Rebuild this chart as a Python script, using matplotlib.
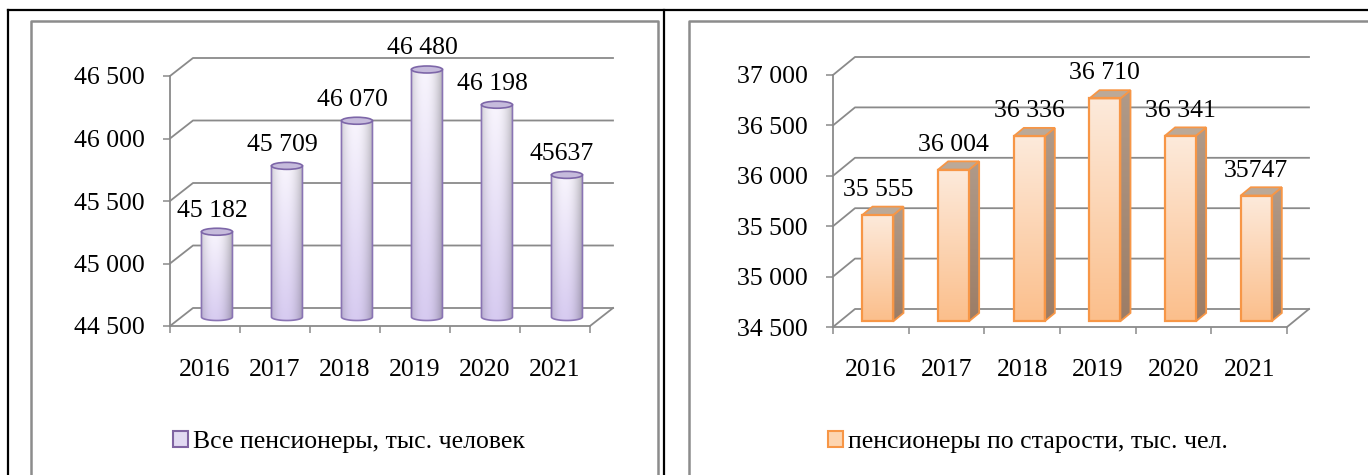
import numpy as np
import matplotlib
matplotlib.use('Agg')
import matplotlib.pyplot as plt
from matplotlib.patches import Polygon, Ellipse, Patch, Rectangle

plt.rcParams['font.family'] = ['Liberation Serif', 'DejaVu Serif']

# данные
years = ['2016', '2017', '2018', '2019', '2020', '2021']
all_pens = [45182, 45709, 46070, 46480, 46198, 45637]
all_labels = ['45 182', '45 709', '46 070', '46 480', '46 198', '45637']
old_pens = [35555, 36004, 36336, 36710, 36341, 35747]
old_labels = ['35 555', '36 004', '36 336', '36 710', '36 341', '35747']
left_ticks = [44500, 45000, 45500, 46000, 46500]
left_ticklabels = ['44 500', '45 000', '45 500', '46 000', '46 500']
right_ticks = [34500, 35000, 35500, 36000, 36500, 37000]
right_ticklabels = ['34 500', '35 000', '35 500', '36 000', '36 500', '37 000']
left_name = 'Все пенсионеры, тыс. человек'
right_name = 'пенсионеры по старости, тыс. чел.'

W, H = 1368, 475
FS = 18.5
GRID = '#8a8a8a'

fig = plt.figure(figsize=(W / 100, H / 100), dpi=100)


def px_axes(x0, y_top, x1, y_bot):
    return fig.add_axes([x0 / W, 1 - y_bot / H, (x1 - x0) / W, (y_bot - y_top) / H])


# рамки таблицы и диаграмм
bg = fig.add_axes([0, 0, 1, 1], zorder=-5)
bg.set_xlim(0, W)
bg.set_ylim(H, 0)
bg.axis('off')
for xs, ys in [([8, 8], [10, H]), ([8, W], [10, 10]), ([664, 664], [10, H])]:
    bg.plot(xs, ys, color='black', lw=1.6)
for xs, ys in [([31, 31, 658, 658], [H, 21, 21, H]), ([689, 689, W], [H, 21, 21])]:
    bg.plot(xs, ys, color='#8c8c8c', lw=1.8)


def setup_wall(ax, ticks, ticklabels, dpx, dpy, xpad):
    n = len(years)
    ymin, ymax = ticks[0], ticks[-1]
    bb = ax.get_window_extent()
    sx = bb.width / n
    sy = bb.height / (ymax - ymin)
    ddx, ddy = dpx / sx, dpy / sy
    for t in ticks:
        ax.plot([0, ddx, n + ddx], [t, t + ddy, t + ddy], color=GRID, lw=1.3,
                clip_on=False, zorder=1)
    ax.plot([n, n + ddx], [ymin, ymin + ddy], color=GRID, lw=1.3, clip_on=False, zorder=1)
    for s in ['top', 'right']:
        ax.spines[s].set_visible(False)
    for s in ['left', 'bottom']:
        ax.spines[s].set_color(GRID)
        ax.spines[s].set_linewidth(1.3)
    ax.set_facecolor('none')
    ax.set_yticks(ticks)
    ax.set_yticklabels(ticklabels, fontsize=FS)
    ax.tick_params(axis='y', length=5, width=1.1, color=GRID, pad=13)
    ax.set_xticks(np.arange(n) + 0.5)
    ax.set_xticklabels(years, fontsize=FS)
    ax.set_xticks(np.arange(n + 1), minor=True)
    ax.tick_params(axis='x', which='major', length=0, pad=xpad)
    ax.tick_params(axis='x', which='minor', length=5, width=1.1, color=GRID)
    return sx, sy, ddx, ddy


def gradient(top_rgb, bot_rgb, shade, ny=60, nx=60):
    t = np.linspace(0, 1, ny)[:, None, None]
    col = np.array(bot_rgb)[None, None, :] * (1 - t) + np.array(top_rgb)[None, None, :] * t
    u = np.linspace(-1, 1, nx)
    f = 1 - shade * (np.abs(u + 0.1) ** 2.2)
    return np.clip(col * f[None, :, None], 0, 1)


def hex2rgb(h):
    return [int(h[i:i + 2], 16) / 255 for i in (1, 3, 5)]


# левая диаграмма — цилиндры
axl = px_axes(170, 76, 590, 326)
axl.set_xlim(0, 6)
axl.set_ylim(left_ticks[0], left_ticks[-1])
sx, sy, ddx, ddy = setup_wall(axl, left_ticks, left_ticklabels, 23, 18, 24)
w = 31 / sx
eh = 7 / sy
img = gradient(hex2rgb('#f8f5fd'), hex2rgb('#d6caf0'), 0.2)
base = left_ticks[0] + 0.5 * ddy
th = np.linspace(np.pi, 2 * np.pi, 40)
for i, v in enumerate(all_pens):
    cx = i + 0.5 + 0.52 * ddx
    top = v + 0.5 * ddy
    pts = [(cx - w / 2, top)]
    pts += [(cx + w / 2 * np.cos(a), base + eh / 2 * np.sin(a)) for a in th]
    pts += [(cx + w / 2, top)]
    body = Polygon(pts, closed=True, transform=axl.transData)
    im = axl.imshow(img, extent=[cx - w / 2, cx + w / 2, base - eh, top], origin='lower',
                    aspect='auto', zorder=3, interpolation='bilinear')
    im.set_clip_box(fig.bbox)
    im.set_clip_path(body)
    axl.add_patch(Polygon(pts, closed=True, fc='none', ec='#8a74b4', lw=1.2, zorder=4,
                          clip_on=False))
    axl.add_patch(Ellipse((cx, top), w, eh, fc='#c6bbdc', ec='#7d66a8', lw=1.2, zorder=5,
                          clip_on=False))
    axl.annotate(all_labels[i], xy=(cx - 5 / sx, top), xytext=(0, 21),
                 textcoords='offset pixels', ha='center', va='center', fontsize=FS,
                 annotation_clip=False)
axl.set_xlim(0, 6)
axl.set_ylim(left_ticks[0], left_ticks[-1])

# правая диаграмма — параллелепипеды
axr = px_axes(833, 75, 1287, 327)
axr.set_xlim(0, 6)
axr.set_ylim(right_ticks[0], right_ticks[-1])
sx, sy, ddx, ddy = setup_wall(axr, right_ticks, right_ticklabels, 22, 18, 23)
w = 31 / sx
f0, k = 0.32, 0.46
img = gradient(hex2rgb('#fdeadb'), hex2rgb('#fbbf8c'), 0.0)
side_img = gradient(hex2rgb('#b09a89'), hex2rgb('#9c7d66'), 0.0)
for i, v in enumerate(old_pens):
    xl = i + 0.5 + f0 * ddx - w / 2
    xr = xl + w
    yb = right_ticks[0] + f0 * ddy
    yt = v + f0 * ddy
    im = axr.imshow(img, extent=[xl, xr, yb, yt], origin='lower', aspect='auto', zorder=3,
                    interpolation='bilinear')
    im.set_clip_box(fig.bbox)
    axr.add_patch(Rectangle((xl, yb), w, yt - yb, fc='none', ec='#f79646', lw=1.6, zorder=5,
                            clip_on=False))
    side = [(xr, yb), (xr + k * ddx, yb + k * ddy), (xr + k * ddx, yt + k * ddy), (xr, yt)]
    sp = Polygon(side, closed=True, transform=axr.transData)
    im = axr.imshow(side_img, extent=[xr, xr + k * ddx, yb, yt + k * ddy], origin='lower',
                    aspect='auto', zorder=3, interpolation='bilinear')
    im.set_clip_box(fig.bbox)
    im.set_clip_path(sp)
    axr.add_patch(Polygon(side, closed=True, fc='none', ec='#f79646', lw=1.3, zorder=4,
                          clip_on=False))
    topf = [(xl, yt), (xr, yt), (xr + k * ddx, yt + k * ddy), (xl + k * ddx, yt + k * ddy)]
    axr.add_patch(Polygon(topf, closed=True, fc='#bba998', ec='#f79646', lw=1.3, zorder=4,
                          clip_on=False))
    axr.annotate(old_labels[i], xy=((xl + xr) / 2, yt), xytext=(0, 25),
                 textcoords='offset pixels', ha='center', va='center', fontsize=FS,
                 annotation_clip=False)
axr.set_xlim(0, 6)
axr.set_ylim(right_ticks[0], right_ticks[-1])

# легенды
for name, fc, ec, cx in [(left_name, '#e2daf2', '#8064a2', 349),
                         (right_name, '#fdd5b0', '#f79646', 1028)]:
    fig.legend(handles=[Patch(fc=fc, ec=ec, lw=1.5, label=name)], loc='center',
               bbox_to_anchor=(cx / W, 1 - 442 / H), frameon=False, fontsize=FS,
               handlelength=0.6, handleheight=0.6, handletextpad=0.2, borderpad=0)

fig.savefig('out.png', dpi=100)
